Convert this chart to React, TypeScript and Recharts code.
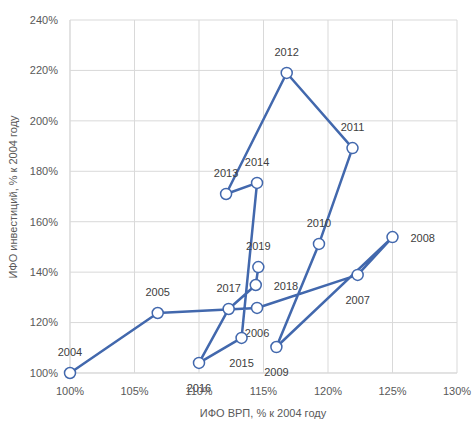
import React from 'react';
import { ScatterChart, Scatter, XAxis, YAxis, CartesianGrid, Label } from 'recharts';

const years = ['2004', '2005', '2006', '2007', '2008', '2009', '2010', '2011', '2012', '2013', '2014', '2015', '2016', '2017', '2018', '2019'];
const grpIndex = [100.0, 106.8, 114.5, 122.3, 125.0, 116.0, 119.3, 121.9, 116.8, 112.1, 114.5, 113.3, 110.0, 112.3, 114.4, 114.6];
const investIndex = [100.0, 123.8, 125.8, 138.9, 153.9, 110.3, 151.2, 189.2, 219.0, 171.0, 175.4, 113.9, 104.0, 125.4, 134.9, 142.0];
const xTicks = [100, 105, 110, 115, 120, 125, 130];
const yTicks = [100, 120, 140, 160, 180, 200, 220, 240];

const xTitle = 'ИФО ВРП, % к 2004 году';
const yTitle = 'ИФО инвестиций, % к 2004 году';

const data = years.map((year, i) => ({ year, grp: grpIndex[i], inv: investIndex[i] }));

const labelSide: Record<string, 'top' | 'bottom' | 'right'> = {
  '2006': 'bottom',
  '2007': 'bottom',
  '2009': 'bottom',
  '2015': 'bottom',
  '2016': 'bottom',
  '2008': 'right',
  '2018': 'right',
};

const FONT = '"Liberation Sans", Arial, sans-serif';
const BLUE = '#4268ad';
const GRID = '#d9d9d9';

function Point(props: any) {
  const { cx, cy, payload } = props;
  const side = labelSide[payload.year] || 'top';
  let tx = cx;
  let ty = cy - 17;
  let anchor: 'middle' | 'start' = 'middle';
  if (side === 'bottom') ty = cy + 29;
  if (side === 'right') {
    tx = cx + 18;
    ty = cy + 5;
    anchor = 'start';
  }
  return (
    <g>
      <circle cx={cx} cy={cy} r={5.5} fill="#ffffff" stroke={BLUE} strokeWidth={1.5} />
      <text x={tx} y={ty} textAnchor={anchor} fontSize={11} fontFamily={FONT} fill="#404040">
        {payload.year}
      </text>
    </g>
  );
}

export default function App() {
  return (
    <div style={{ position: 'absolute', left: 0, top: 0, width: 475, height: 423, background: '#ffffff' }}>
      <ScatterChart width={475} height={423} margin={{ top: 20, right: 18, bottom: 0, left: 0 }}>
        <CartesianGrid stroke={GRID} strokeWidth={1} horizontal vertical />
        <XAxis
          dataKey="grp"
          type="number"
          domain={[100, 130]}
          ticks={xTicks}
          interval={0}
          height={50}
          tickLine={false}
          axisLine={{ stroke: GRID }}
          tickMargin={8}
          tickFormatter={(v: number) => `${v}%`}
          tick={{ fill: '#595959', fontSize: 11, fontFamily: FONT }}
        >
          <Label
            content={() => (
              <text x={263} y={417} textAnchor="middle" fontSize={11} fontFamily={FONT} fill="#595959">
                {xTitle}
              </text>
            )}
          />
        </XAxis>
        <YAxis
          dataKey="inv"
          type="number"
          domain={[100, 240]}
          ticks={yTicks}
          interval={0}
          width={70}
          tickLine={false}
          axisLine={{ stroke: GRID }}
          tickMargin={6}
          tickFormatter={(v: number) => `${v}%`}
          tick={{ fill: '#595959', fontSize: 11, fontFamily: FONT }}
        >
          <Label
            content={() => (
              <text
                x={13}
                y={197}
                transform="rotate(-90 13 197)"
                textAnchor="middle"
                dominantBaseline="central"
                fontSize={11}
                fontFamily={FONT}
                fill="#595959"
              >
                {yTitle}
              </text>
            )}
          />
        </YAxis>
        <Scatter
          data={data}
          isAnimationActive={false}
          line={{ stroke: BLUE, strokeWidth: 2.5, strokeLinejoin: 'round' }}
          lineType="joint"
          shape={Point}
        />
      </ScatterChart>
    </div>
  );
}
